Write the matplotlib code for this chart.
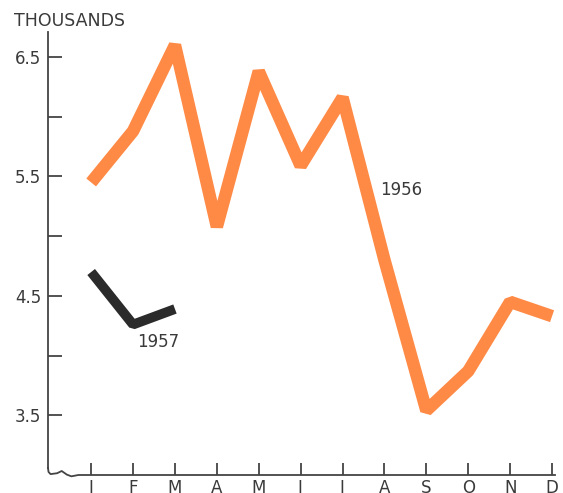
import matplotlib
matplotlib.use('Agg')
import matplotlib.pyplot as plt

# monthly values, thousands
months = ['J', 'F', 'M', 'A', 'M', 'J', 'J', 'A', 'S', 'O', 'N', 'D']
values_1956 = [5.45, 5.88, 6.60, 5.08, 6.38, 5.59, 6.16, 4.80, 3.54, 3.87, 4.45, 4.33]
values_1957 = [4.70, 4.26, 4.39]
yticks = [3.5, 4.0, 4.5, 5.0, 5.5, 6.0, 6.5]
ytick_labels = ['3.5', '', '4.5', '', '5.5', '', '6.5']

orange = '#FF8A45'
dark = '#2b2b2b'
txt = '#3a3a3a'

fig = plt.figure(figsize=(5.63, 4.93), dpi=100)
ax = fig.add_axes([48 / 563, 18 / 493, 507 / 563, 443 / 493])

x56 = list(range(len(values_1956)))
x57 = list(range(len(values_1957)))
ax.plot(x56, values_1956, color=orange, lw=9, solid_joinstyle='bevel',
        solid_capstyle='butt', zorder=3)
ax.plot(x57, values_1957, color=dark, lw=7, solid_joinstyle='bevel',
        solid_capstyle='butt', zorder=3)

ax.text(7.40, 5.39, '1956', fontsize=12, color=txt, ha='center', va='center')
ax.text(1.60, 4.11, '1957', fontsize=12, color=txt, ha='center', va='center')

ax.set_xlim(-1.03, 11.07)
ax.set_ylim(3.0, 6.71)

ax.set_xticks(x56)
ax.set_xticklabels(months)
ax.set_yticks(yticks)
ax.set_yticklabels(ytick_labels)
ax.tick_params(axis='y', direction='in', length=10, width=1.3, color='#444444',
               labelsize=12, labelcolor=txt, pad=5)
ax.tick_params(axis='x', direction='in', length=9, width=1.3, color='#444444',
               labelsize=12, labelcolor=txt, pad=3)

for s in ax.spines.values():
    s.set_visible(False)

# axis lines with the broken-scale squiggle in the corner
tr = ax.transAxes
ax.plot([0, 0], [1, 0.016], color='#444444', lw=1.3, transform=tr, clip_on=False)
sx = [0, 0.001, 0.005, 0.018, 0.027, 0.037, 0.046, 0.06, 1.0]
sy = [0.016, 0.007, 0.002, 0.004, 0.009, 0.001, -0.003, 0.0, 0.0]
ax.plot(sx, sy, color='#444444', lw=1.3, transform=tr, clip_on=False)

fig.text(14 / 563, 1 - 21 / 493, 'THOUSANDS', fontsize=12.5, color=txt,
         ha='left', va='center')

fig.savefig('out.png', dpi=100)
